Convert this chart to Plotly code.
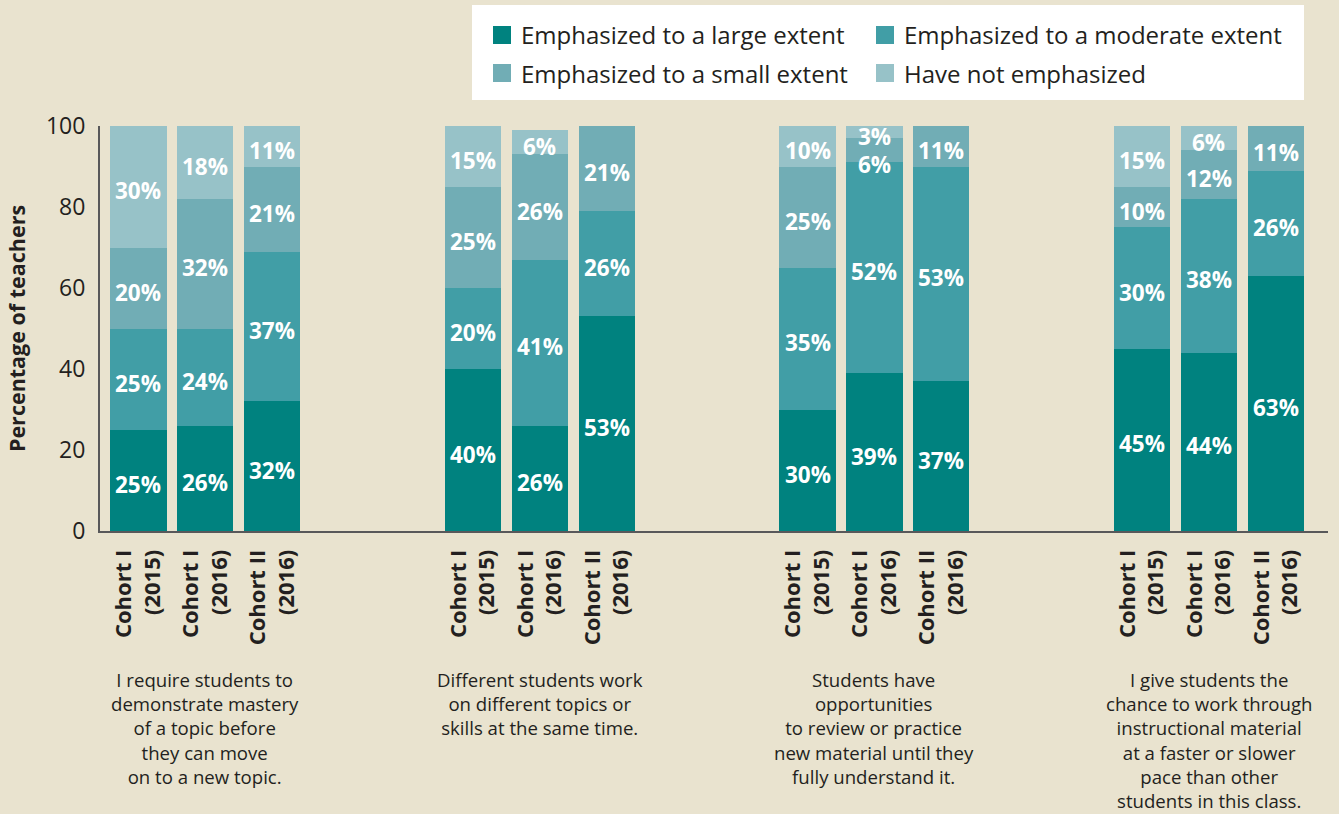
import plotly.graph_objects as go

# ---- data ----
groups = [
    "I require students to<br>demonstrate mastery<br>of a topic before<br>they can move<br>on to a new topic.",
    "Different students work<br>on different topics or<br>skills at the same time.",
    "Students have<br>opportunities<br>to review or practice<br>new material until they<br>fully understand it.",
    "I give students the<br>chance to work through<br>instructional material<br>at a faster or slower<br>pace than other<br>students in this class.",
]
cohorts = ["Cohort I<br>(2015)", "Cohort I<br>(2016)", "Cohort II<br>(2016)"]
series_names = [
    "Emphasized to a large extent",
    "Emphasized to a moderate extent",
    "Emphasized to a small extent",
    "Have not emphasized",
]
# values per group, per cohort
large    = [[25, 26, 32], [40, 26, 53], [30, 39, 37], [45, 44, 63]]
moderate = [[25, 24, 37], [20, 41, 26], [35, 52, 53], [30, 38, 26]]
small    = [[20, 32, 21], [25, 26, 21], [25, 6, 11], [10, 12, 11]]
not_emph = [[30, 18, 11], [15, 6, 0], [10, 3, 0], [15, 6, 0]]

colors = ["#00827f", "#419ea6", "#71adb5", "#97c2c8"]
bg = "#e9e3cf"
text_dark = "#231f20"
FONT = "Open Sans"

W, H = 1339, 814
ML, MR, MT, MB = 100, 11, 126, 283
PW, PH = W - ML - MR, H - MT - MB


def px_x(p):  # pixel -> paper x
    return (p - ML) / PW


def px_y(p):  # pixel -> paper y
    return (H - MB - p) / PH


series = [large, moderate, small, not_emph]
xs = []
tickvals, ticktext = [], []
for g in range(len(groups)):
    for c in range(len(cohorts)):
        xs.append(g * 5 + c)
        tickvals.append(g * 5 + c)
        ticktext.append(f"<b>{cohorts[c]}</b>")

fig = go.Figure()
for name, vals, col in zip(series_names, series, colors):
    ys = [v for grp in vals for v in grp]
    fig.add_trace(go.Bar(x=xs, y=ys, name=name, marker=dict(color=col, line=dict(width=0)),
                         width=0.84, hoverinfo="name+y", showlegend=False))

annotations = []
shapes = []
# segment labels
for i, x in enumerate(xs):
    g, c = divmod(i, 3)
    base = 0
    positions = []
    for vals in series:
        v = vals[g][c]
        top = min(base + v, 100)
        if v > 0:
            positions.append([(base + top) / 2, v])
        base += v
    # keep labels from colliding: walk from the top down
    for k in range(len(positions) - 2, -1, -1):
        if positions[k + 1][0] - positions[k][0] < 7:
            positions[k][0] = positions[k + 1][0] - 7
    for yc, v in positions:
        annotations.append(dict(x=x, y=yc, xref="x", yref="y", text=f"<b>{v}%</b>",
                                showarrow=False, yshift=-4,
                                font=dict(family=FONT, size=22.5, color="white")))

# group descriptions
for g, desc in enumerate(groups):
    annotations.append(dict(x=g * 5 + 1, y=px_y(665), xref="x", yref="paper", text=desc,
                            showarrow=False, xanchor="center", yanchor="top", align="center",
                            font=dict(family=FONT, size=18.6, color=text_dark)))

# legend (drawn box, swatches and labels)
shapes.append(dict(type="rect", xref="paper", yref="paper",
                   x0=px_x(472), x1=px_x(1304), y0=px_y(100), y1=px_y(5),
                   fillcolor="white", line=dict(width=0), layer="above"))
leg_cols = [493, 876]
leg_rows = [35, 73]
for k, (name, col) in enumerate(zip(series_names, colors)):
    r, cc = divmod(k, 2)
    sx, sy = leg_cols[cc], leg_rows[r]
    shapes.append(dict(type="rect", xref="paper", yref="paper",
                       x0=px_x(sx), x1=px_x(sx + 18), y0=px_y(sy + 9), y1=px_y(sy - 9),
                       fillcolor=col, line=dict(width=0), layer="above"))
    annotations.append(dict(x=px_x(sx + 26), y=px_y(sy), xref="paper", yref="paper",
                            text=name, showarrow=False, xanchor="left", yanchor="middle",
                            font=dict(family=FONT, size=24, color=text_dark)))

fig.update_layout(
    barmode="stack",
    width=W, height=H,
    margin=dict(l=ML, r=MR, t=MT, b=MB, autoexpand=False),
    paper_bgcolor=bg, plot_bgcolor=bg,
    font=dict(family=FONT, color=text_dark),
    bargap=0,
    showlegend=False,
    annotations=annotations,
    shapes=shapes,
    xaxis=dict(
        range=[-0.575, 17.78], tickmode="array", tickvals=tickvals, ticktext=ticktext,
        tickangle=-90, tickfont=dict(family=FONT, size=22, color=text_dark),
        showgrid=False, zeroline=False, showline=True, linecolor="#58585a", linewidth=2,
        ticks="", ticklabelstandoff=8,
    ),
    yaxis=dict(
        range=[0, 100], tickvals=[0, 20, 40, 60, 80, 100],
        tickfont=dict(family=FONT, size=23, color=text_dark),
        showgrid=False, zeroline=False, showline=True, linecolor="#58585a", linewidth=2,
        ticks="", ticklabelstandoff=8,
        title=dict(text="<b>Percentage of teachers</b>", font=dict(family=FONT, size=21.5, color=text_dark),
                   standoff=14),
    ),
)

fig.write_html(
    "out.html",
    config={"displayModeBar": False},
    post_script="document.body.style.margin='0';document.body.style.background='" + bg + "';",
)
